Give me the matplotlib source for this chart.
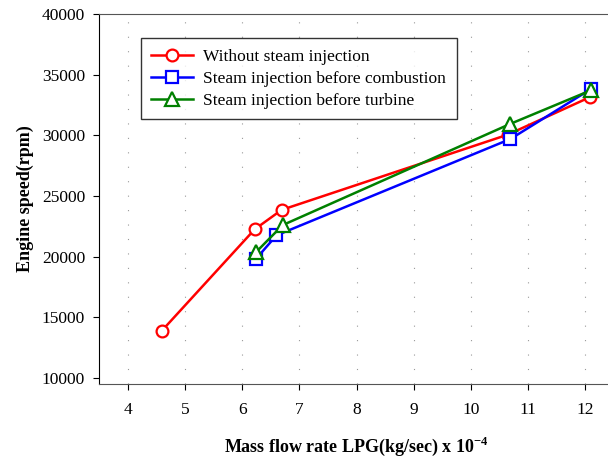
import matplotlib.pyplot as plt

plt.rcParams['font.family'] = ['Liberation Serif', 'DejaVu Serif']
plt.rcParams['mathtext.fontset'] = 'custom'
plt.rcParams['mathtext.rm'] = 'Liberation Serif'
plt.rcParams['mathtext.bf'] = 'Liberation Serif:bold'

x_red = [4.6, 6.22, 6.69, 10.64, 12.08]
y_red = [13900, 22250, 23850, 30050, 33150]
x_blue = [6.24, 6.6, 10.69, 12.09]
y_blue = [19800, 21750, 29700, 33800]
x_green = [6.24, 6.71, 10.69, 12.09]
y_green = [20350, 22600, 30950, 33700]

labels = ['Without steam injection',
          'Steam injection before combustion',
          'Steam injection before turbine']

fig = plt.figure(figsize=(6.08, 4.57), dpi=100)
ax = fig.add_axes([99/608, 1 - 384/457, 1 - 99/608 + 0.01, 370/457])

ax.plot(x_red, y_red, color='red', marker='o', ms=8.5, mfc='white', mew=1.6, lw=1.8, label=labels[0])
ax.plot(x_blue, y_blue, color='blue', marker='s', ms=8.5, mfc='white', mew=1.6, lw=1.8, label=labels[1])
ax.plot(x_green, y_green, color='green', marker='^', ms=9.5, mfc='white', mew=1.6, lw=1.8, label=labels[2])

ax.set_xlim(3.5, 12.5)
ax.set_ylim(9500, 40000)
ax.set_xticks(range(4, 13))
ax.set_yticks(range(10000, 40001, 5000))
ax.tick_params(labelsize=12.5, direction='out', length=4)
ax.tick_params(axis='x', pad=9)
ax.tick_params(axis='y', pad=6)
ax.xaxis.grid(True, color='#999999', lw=0.8, dashes=(1, 12))
ax.spines['right'].set_visible(False)
ax.spines['top'].set_color('#555555')
ax.spines['bottom'].set_color('#555555')

ax.set_xlabel(r'Mass flow rate LPG(kg/sec) x 10$^{\mathbf{-4}}$', fontsize=13, fontweight='bold', labelpad=12)
ax.set_ylabel('Engine speed(rpm)', fontsize=13, fontweight='bold', labelpad=6)

leg = ax.legend(loc='upper left', bbox_to_anchor=(0.081, 0.935), borderaxespad=0, fontsize=12.5,
                frameon=True, fancybox=False, edgecolor='black', handlelength=2.4, borderpad=0.6,
                labelspacing=0.35, handletextpad=0.6)
leg.get_frame().set_linewidth(1.0)

fig.savefig('out.png', dpi=100)
